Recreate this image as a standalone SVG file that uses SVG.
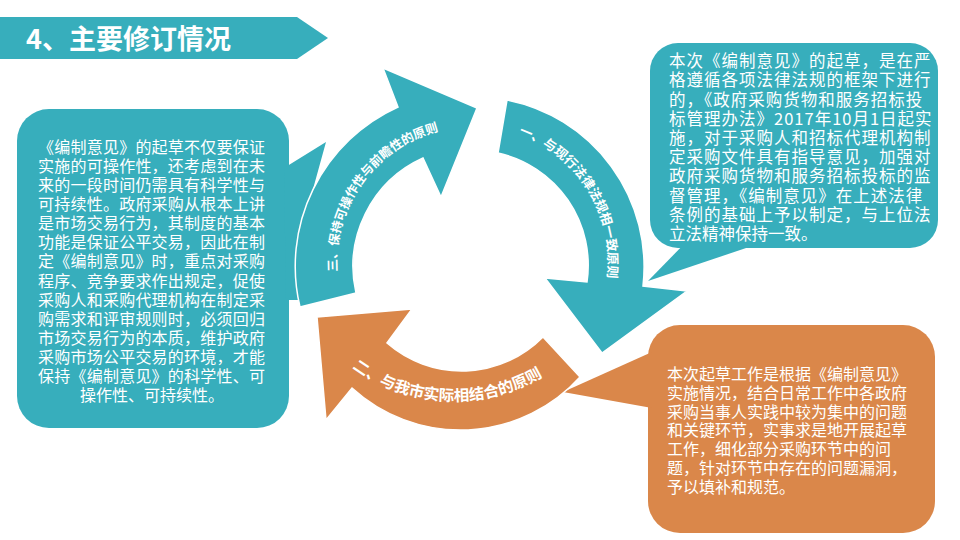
<svg xmlns="http://www.w3.org/2000/svg" width="960" height="540" viewBox="0 0 960 540">
  <style>
    .teal { fill: #37AEBC; }
    .orange { fill: #DA874A; }
    .arrow { stroke: #FFFFFF; stroke-width: 1.5; stroke-linejoin: miter; }
    .title { font-family: "Noto Sans CJK SC", "Liberation Sans", sans-serif; font-size: 27px; font-weight: 700; fill: #FFFFFF; }
    .body { font-family: "Noto Sans CJK SC", "Liberation Sans", sans-serif; font-size: 16px; fill: #FFFFFF; }
    .body2 { font-family: "Noto Sans CJK SC", "Liberation Sans", sans-serif; font-size: 16.5px; fill: #FFFFFF; }
    .just { letter-spacing: 1px; }
    .lbl { font-family: "Noto Sans CJK SC", "Liberation Sans", sans-serif; font-weight: 700; fill: #FFFFFF; }
  </style>
  <defs>
    <path id="p1" d="M518.5,134.2 A136,136 0 0 1 603.4,297.2"/>
    <path id="p2" d="M352.3,368 A173,173 0 0 0 565.2,360.5"/>
    <path id="p3" d="M337.3,271.4 A135,135 0 0 1 460.2,127.5"/>
  </defs>

  <g id="title">
    <polygon class="teal" points="0,17 297,17 328,38 297,59 0,59"/>
    <text class="title" x="26" y="49">4、主要修订情况</text>
  </g>

  <g id="bubble-left">
    <rect class="teal" x="17" y="109" width="272" height="319" rx="32" ry="32"/>
    <polygon class="teal" points="284,168 326,142 310,200 298,300 286,300"/>
    <g class="body">
      <text x="38" y="153" textLength="227" lengthAdjust="spacing">《编制意见》的起草不仅要保证</text>
      <text x="38" y="172" textLength="227" lengthAdjust="spacing">实施的可操作性，还考虑到在未</text>
      <text x="38" y="191" textLength="227" lengthAdjust="spacing">来的一段时间仍需具有科学性与</text>
      <text x="38" y="210" textLength="227" lengthAdjust="spacing">可持续性。政府采购从根本上讲</text>
      <text x="38" y="229" textLength="227" lengthAdjust="spacing">是市场交易行为，其制度的基本</text>
      <text x="38" y="248" textLength="227" lengthAdjust="spacing">功能是保证公平交易，因此在制</text>
      <text x="38" y="267" textLength="227" lengthAdjust="spacing">定《编制意见》时，重点对采购</text>
      <text x="38" y="287" textLength="227" lengthAdjust="spacing">程序、竞争要求作出规定，促使</text>
      <text x="38" y="306" textLength="227" lengthAdjust="spacing">采购人和采购代理机构在制定采</text>
      <text x="38" y="325" textLength="227" lengthAdjust="spacing">购需求和评审规则时，必须回归</text>
      <text x="38" y="344" textLength="227" lengthAdjust="spacing">市场交易行为的本质，维护政府</text>
      <text x="38" y="363" textLength="227" lengthAdjust="spacing">采购市场公平交易的环境，才能</text>
      <text x="38" y="382" textLength="227" lengthAdjust="spacing">保持《编制意见》的科学性、可</text>
      <text x="152" y="401" text-anchor="middle">操作性、可持续性。</text>
    </g>
  </g>

  <g id="bubble-right-top">
    <rect class="teal" x="650" y="43" width="288" height="205" rx="28" ry="28"/>
    <polygon class="teal" points="690,238 648,281 758,244"/>
    <g class="body2">
      <text class="just" x="669" y="67">本次《编制意见》的起草，是在严</text>
      <text class="just" x="669" y="86">格遵循各项法律法规的框架下进行</text>
      <text class="just" x="669" y="105.5">的，《政府采购货物和服务招标投</text>
      <text class="just" x="669" y="124.5">标管理办法》2017年10月1日起实</text>
      <text class="just" x="669" y="144">施，对于采购人和招标代理机构制</text>
      <text class="just" x="669" y="163">定采购文件具有指导意见，加强对</text>
      <text class="just" x="669" y="182">政府采购货物和服务招标投标的监</text>
      <text class="just" x="669" y="201.5">督管理，《编制意见》在上述法律</text>
      <text class="just" x="669" y="220.5">条例的基础上予以制定，与上位法</text>
      <text x="669" y="240">立法精神保持一致。</text>
    </g>
  </g>

  <g id="bubble-right-bottom">
    <rect class="orange" x="648" y="325" width="287" height="208" rx="32" ry="32"/>
    <polygon class="orange" points="652,352 563,392 652,408"/>
    <g class="body">
      <text x="667" y="380">本次起草工作是根据《编制意见》</text>
      <text x="667" y="399">实施情况，结合日常工作中各政府</text>
      <text x="667" y="418">采购当事人实践中较为集中的问题</text>
      <text x="667" y="436">和关键环节，实事求是地开展起草</text>
      <text x="667" y="455">工作，细化部分采购环节中的问</text>
      <text x="667" y="474">题，针对环节中存在的问题漏洞，</text>
      <text x="667" y="493">予以填补和规范。</text>
    </g>
  </g>

  <g id="connectors">
    <g id="arrow-1">
      <path class="teal arrow" d="M507,100 A170,170 0 0 1 643,286 L687,291 L602,353 L545,278 L587,282 A115,115 0 0 0 498,153 Z"/>
      <text class="lbl" font-size="13"><textPath href="#p1">一、与现行法律法规相一致原则</textPath></text>
    </g>
    <g id="arrow-2">
      <path class="orange arrow" d="M580,377 A161,161 0 0 1 352,388 L326,420 L317,317 L412,309 L387,343 A114,114 0 0 0 543,337 Z"/>
      <text class="lbl" font-size="15.5"><textPath href="#p2">二、与我市实际相结合的原则</textPath></text>
    </g>
    <g id="arrow-3">
      <path class="teal arrow" d="M300,307 A175,175 0 0 1 398,107 L383,68 L477,108 L441,197 L423,158 A119,119 0 0 0 356,293 Z"/>
      <text class="lbl" font-size="12.5"><textPath href="#p3">三、保持可操作性与前瞻性的原则</textPath></text>
    </g>
  </g>
</svg>
